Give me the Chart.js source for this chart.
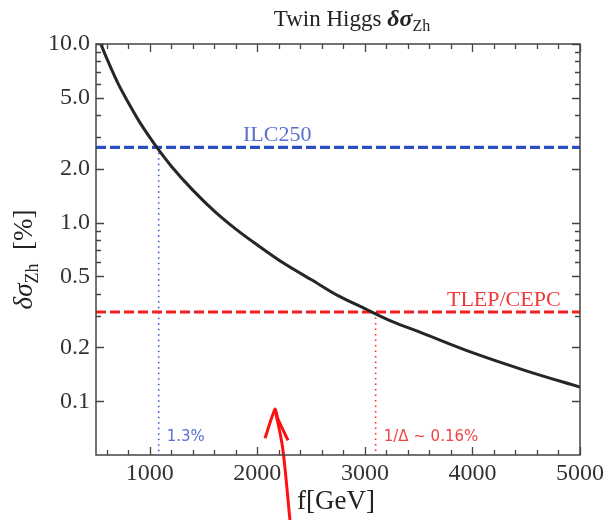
<!DOCTYPE html>
<html>
<head>
<meta charset="utf-8">
<script src="https://cdn.jsdelivr.net/npm/chart.js@4.4.1/dist/chart.umd.min.js"></script>
<style>
  html, body { margin: 0; padding: 0; background: #fff; }
  #wrap { width: 608px; height: 520px; }
</style>
</head>
<body>
<div id="wrap"><canvas id="chart" width="608" height="520"></canvas></div>
<script>
// curve: f [GeV] vs delta sigma_Zh [%]
const fValues = [545, 600, 700, 800, 900, 1000, 1100, 1200, 1400, 1600, 1800, 2000, 2250, 2500, 2750, 3000, 3250, 3500, 4000, 4500, 5000];
const sigmaValues = [10.0, 8.3, 6.1, 4.7, 3.7, 3.0, 2.47, 2.07, 1.52, 1.16, 0.92, 0.75, 0.59, 0.48, 0.39, 0.33, 0.28, 0.245, 0.187, 0.148, 0.12];

// experimental reaches
const ilcLevel = 2.64;
const tlepLevel = 0.316;
const ilcCross = 1083;
const tlepCross = 3100;

// axis ticks
const xMajor = [1000, 2000, 3000, 4000, 5000];
const xMinor = [600, 800, 1200, 1400, 1600, 1800, 2200, 2400, 2600, 2800, 3200, 3400, 3600, 3800, 4200, 4400, 4600, 4800];
const yMajor = [0.1, 0.2, 0.5, 1, 2, 5, 10];
const yMinor = [0.3, 0.4, 0.6, 0.7, 0.8, 0.9, 3, 4, 6, 7, 8, 9];

// hand drawn red arrow (data coordinates)
const arrowShaft = [{x: 2304, y: 0.0214}, {x: 2235, y: 0.055}, {x: 2164, y: 0.0902}];
const arrowHead = [{x: 2071, y: 0.0620}, {x: 2164, y: 0.0902}, {x: 2190, y: 0.080}, {x: 2285, y: 0.0604}];

const X_MIN = 500, X_MAX = 5000, Y_MIN = 0.05, Y_MAX = 10;
const SERIF = '"Liberation Serif", "DejaVu Serif", serif';

function richText(ctx, parts, x, y, align) {
    // parts: [{t, font, dy}]
    let total = 0;
    parts.forEach(p => { ctx.font = p.font; total += ctx.measureText(p.t).width; });
    let cx = align === 'center' ? x - total / 2 : x;
    parts.forEach(p => {
        ctx.font = p.font;
        ctx.fillText(p.t, cx, y + (p.dy || 0));
        cx += ctx.measureText(p.t).width;
    });
}

const decorPlugin = {
    id: 'decor',
    afterDraw(chart) {
        const ctx = chart.ctx;
        const a = chart.chartArea;
        const xs = chart.scales.x, ys = chart.scales.y;
        ctx.save();

        // frame
        ctx.strokeStyle = '#444';
        ctx.lineWidth = 1.5;
        ctx.strokeRect(a.left, a.top, a.right - a.left, a.bottom - a.top);

        // inward ticks on all four sides
        ctx.lineWidth = 1.3;
        ctx.beginPath();
        const xt = (v, len) => {
            const px = Math.round(xs.getPixelForValue(v)) + 0.5;
            ctx.moveTo(px, a.bottom); ctx.lineTo(px, a.bottom - len);
            ctx.moveTo(px, a.top); ctx.lineTo(px, a.top + len);
        };
        const yt = (v, len) => {
            const py = Math.round(ys.getPixelForValue(v)) + 0.5;
            ctx.moveTo(a.left, py); ctx.lineTo(a.left + len, py);
            ctx.moveTo(a.right, py); ctx.lineTo(a.right - len, py);
        };
        xMajor.forEach(v => xt(v, 8));
        xMinor.forEach(v => xt(v, 5));
        yMajor.forEach(v => yt(v, 8));
        yMinor.forEach(v => yt(v, 5));
        ctx.stroke();

        // title
        ctx.fillStyle = '#222';
        ctx.textBaseline = 'alphabetic';
        richText(ctx, [
            {t: 'Twin Higgs ', font: '23px ' + SERIF},
            {t: 'δσ', font: 'italic bold 24px ' + SERIF},
            {t: 'Zh', font: '16px ' + SERIF, dy: 5}
        ], (a.left + a.right) / 2 + 14, 26, 'center');

        // x axis title
        richText(ctx, [{t: 'f[GeV]', font: '27px ' + SERIF}], (a.left + a.right) / 2 - 2, 509, 'center');

        // y axis title (rotated)
        ctx.save();
        ctx.translate(32, (a.top + a.bottom) / 2 + 10);
        ctx.rotate(-Math.PI / 2);
        richText(ctx, [
            {t: 'δσ', font: 'italic 27px ' + SERIF},
            {t: 'Zh', font: '18px ' + SERIF, dy: 6},
            {t: '  [%]', font: '27px ' + SERIF}
        ], 0, 0, 'center');
        ctx.restore();

        // line labels
        ctx.fillStyle = '#5a6fd0';
        richText(ctx, [{t: 'ILC250', font: '22px ' + SERIF}], xs.getPixelForValue(1867), ys.getPixelForValue(ilcLevel) - 6, 'left');
        ctx.fillStyle = '#ee3a3a';
        richText(ctx, [{t: 'TLEP/CEPC', font: '22px ' + SERIF}], xs.getPixelForValue(3763), ys.getPixelForValue(tlepLevel) - 6, 'left');

        ctx.font = '15px "DejaVu Sans", sans-serif';
        ctx.fillStyle = '#5a6fd0';
        ctx.fillText('1.3%', xs.getPixelForValue(ilcCross) + 8, a.bottom - 14);
        ctx.fillStyle = '#ee4444';
        ctx.fillText('1/Δ ~ 0.16%', xs.getPixelForValue(tlepCross) + 8, a.bottom - 14);

        ctx.restore();
    }
};

new Chart(document.getElementById('chart'), {
    type: 'line',
    data: {
        datasets: [
            {
                label: 'curve',
                data: fValues.map((f, i) => ({x: f, y: sigmaValues[i]})),
                borderColor: '#262626',
                borderWidth: 3,
                pointRadius: 0,
                cubicInterpolationMode: 'monotone'
            },
            {
                label: 'ILC250',
                data: [{x: X_MIN, y: ilcLevel}, {x: X_MAX, y: ilcLevel}],
                borderColor: '#2c4fc6',
                borderWidth: 3.2,
                borderDash: [10, 4],
                pointRadius: 0
            },
            {
                label: 'TLEP/CEPC',
                data: [{x: X_MIN, y: tlepLevel}, {x: X_MAX, y: tlepLevel}],
                borderColor: '#f02020',
                borderWidth: 3.2,
                borderDash: [10, 4],
                pointRadius: 0
            },
            {
                label: 'ILC cross',
                data: [{x: ilcCross, y: ilcLevel}, {x: ilcCross, y: Y_MIN}],
                borderColor: '#3a58cc',
                borderWidth: 1.6,
                borderDash: [1.5, 4],
                pointRadius: 0
            },
            {
                label: 'TLEP cross',
                data: [{x: tlepCross, y: tlepLevel}, {x: tlepCross, y: Y_MIN}],
                borderColor: '#ee3030',
                borderWidth: 1.6,
                borderDash: [1.5, 4],
                pointRadius: 0
            },
            {
                label: 'arrow',
                data: arrowShaft,
                borderColor: '#ff1010',
                borderWidth: 3,
                pointRadius: 0,
                tension: 0.3,
                clip: false
            },
            {
                label: 'arrow head',
                data: arrowHead,
                borderColor: '#ff1010',
                borderWidth: 3,
                pointRadius: 0,
                tension: 0.2,
                clip: false
            }
        ]
    },
    options: {
        responsive: false,
        animation: false,
        layout: { padding: { left: 0, top: 44, right: 28, bottom: 0 } },
        plugins: {
            legend: { display: false },
            tooltip: { enabled: false }
        },
        scales: {
            x: {
                type: 'linear',
                min: X_MIN,
                max: X_MAX,
                afterBuildTicks: s => { s.ticks = xMajor.map(v => ({value: v})); },
                afterFit: s => { s.height = 65; },
                grid: { display: false, drawTicks: false },
                border: { display: false },
                ticks: {
                    autoSkip: false,
                    maxRotation: 0,
                    padding: 4,
                    color: '#333',
                    font: { family: SERIF, size: 24 },
                    callback: v => String(v)
                }
            },
            y: {
                type: 'logarithmic',
                min: Y_MIN,
                max: Y_MAX,
                afterBuildTicks: s => { s.ticks = yMajor.map(v => ({value: v})); },
                afterFit: s => { s.width = 96; },
                grid: { display: false, drawTicks: false },
                border: { display: false },
                ticks: {
                    autoSkip: false,
                    padding: 6,
                    color: '#333',
                    font: { family: SERIF, size: 24 },
                    callback: v => Number(v).toFixed(1)
                }
            }
        }
    },
    plugins: [decorPlugin]
});
</script>
</body>
</html>
